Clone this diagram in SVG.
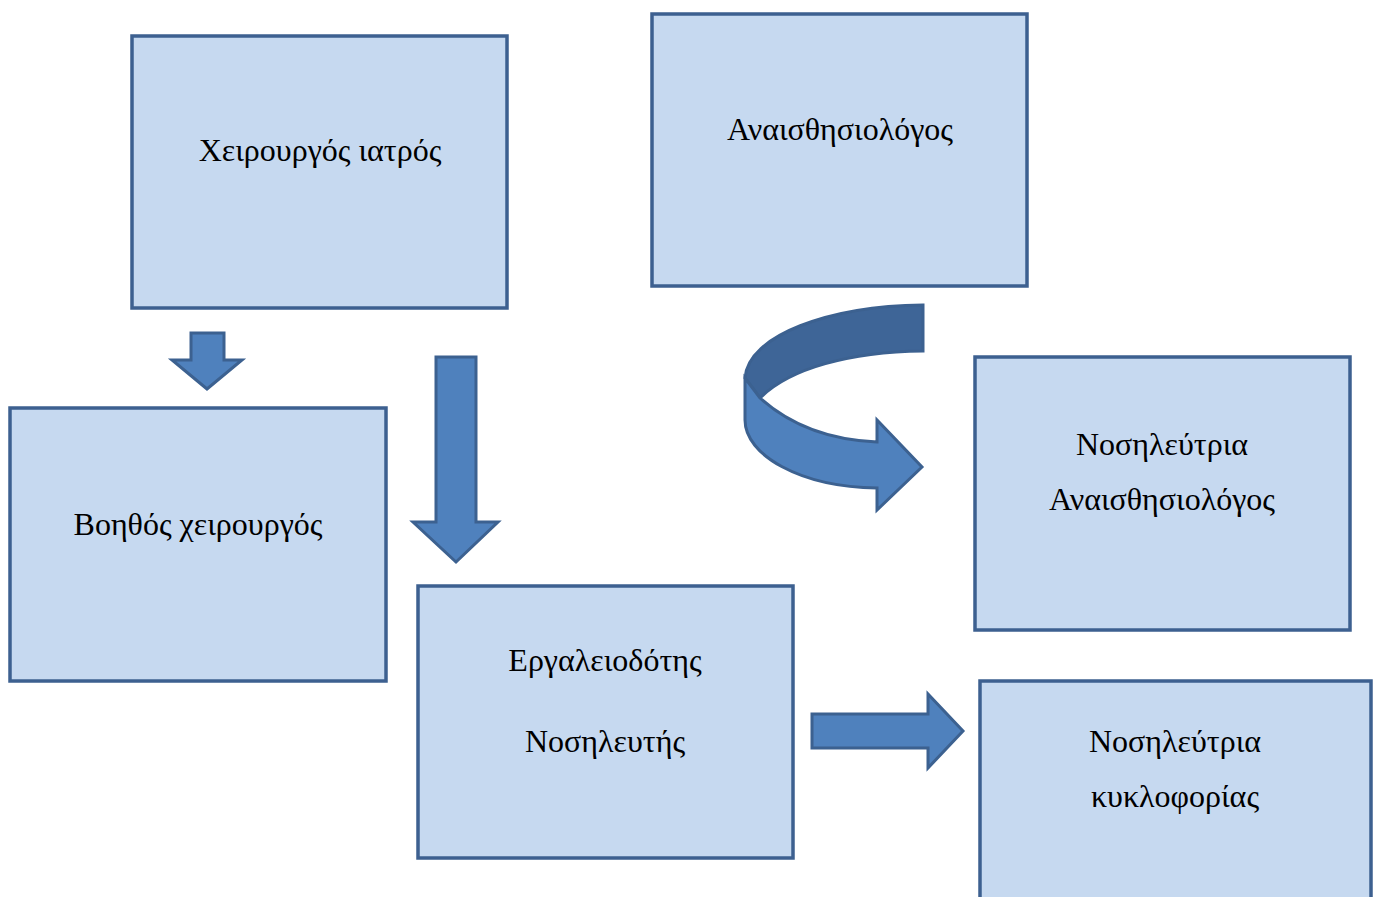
<svg xmlns="http://www.w3.org/2000/svg" width="1379" height="897" viewBox="0 0 1379 897">
<style>
.box{fill:#c6d9f0;stroke:#3d6090;stroke-width:3.5}
.lbl{font-family:"Liberation Serif","Times New Roman",serif;font-size:32px;fill:#000;text-anchor:middle}
.arr{fill:#4f81bd;stroke:#3c6190;stroke-width:3;stroke-linejoin:miter}
.arrd{fill:#3e6597;stroke:#3c6190;stroke-width:3}
</style>
<rect width="1379" height="897" fill="#fff"/>
<g id="node-xeirourgos">
<rect class="box" x="132" y="36" width="375" height="272"/>
<text class="lbl" x="320" y="161">Χειρουργός ιατρός</text>
</g>
<g id="node-anaisthisiologos">
<rect class="box" x="652" y="14" width="375" height="272"/>
<text class="lbl" x="840" y="140">Αναισθησιολόγος</text>
</g>
<g id="node-voithos">
<rect class="box" x="10" y="408" width="376" height="273"/>
<text class="lbl" x="198" y="535">Βοηθός χειρουργός</text>
</g>
<g id="node-nosileutria-anaisth">
<rect class="box" x="975" y="357" width="375" height="273"/>
<text class="lbl" x="1162" y="455">Νοσηλεύτρια</text>
<text class="lbl" x="1162" y="510">Αναισθησιολόγος</text>
</g>
<g id="node-ergaleiodotis">
<rect class="box" x="418" y="586" width="375" height="272"/>
<text class="lbl" x="605" y="671">Εργαλειοδότης</text>
<text class="lbl" x="605" y="752">Νοσηλευτής</text>
</g>
<g id="node-kykloforias">
<rect class="box" x="980" y="681" width="391" height="240"/>
<text class="lbl" x="1175" y="752">Νοσηλεύτρια</text>
<text class="lbl" x="1175" y="807">κυκλοφορίας</text>
</g>
<g id="connectors">
<path class="arr" d="M191,333 L224,333 L224,360 L242,360 L207,389 L172,360 L191,360 Z"/>
<path class="arr" d="M436,357 L476,357 L476,522 L498,522 L456,562 L413,522 L436,522 Z"/>
<path class="arr" d="M812,714 L928,714 L928,694 L963,731 L928,768 L928,748 L812,748 Z"/>
<path class="arrd" d="M923,305 L923,351 C850,352 790,368 760,398 L745,378 C748,335 830,306 923,305 Z"/>
<path class="arr" d="M745,378 L760,398 C790,425 830,440 877,442 L877,420 L922,467 L877,510 L877,488 C800,487 745,455 745,420 Z"/>
</g>
</svg>
